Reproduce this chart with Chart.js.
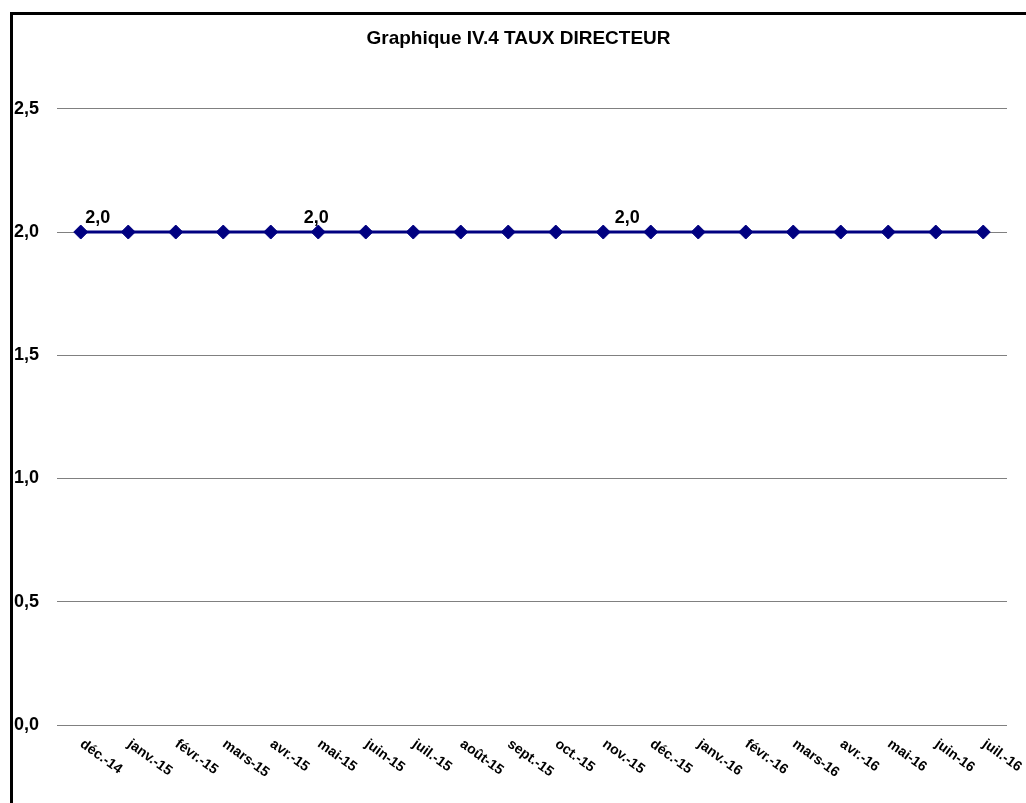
<!DOCTYPE html>
<html>
<head>
<meta charset="utf-8">
<title>Graphique IV.4 TAUX DIRECTEUR</title>
<script src="https://cdn.jsdelivr.net/npm/chart.js@4.4.1/dist/chart.umd.min.js"></script>
<style>
    html, body { margin: 0; padding: 0; background: #ffffff; overflow: hidden; }
    #wrap { position: absolute; left: 0; top: 0; width: 1026px; height: 803px; }
    #frame {
        position: absolute; left: 10px; top: 12px;
        width: 1100px; height: 900px;
        border: 3px solid #000000;
        pointer-events: none;
    }
</style>
</head>
<body>
<div id="wrap"><canvas id="tauxChart" width="1026" height="803"></canvas></div>
<div id="frame"></div>
<script>
const months = ['déc.-14', 'janv.-15', 'févr.-15', 'mars-15', 'avr.-15', 'mai-15', 'juin-15', 'juil.-15',
    'août-15', 'sept.-15', 'oct.-15', 'nov.-15', 'déc.-15', 'janv.-16', 'févr.-16', 'mars-16',
    'avr.-16', 'mai-16', 'juin-16', 'juil.-16'];
const tauxDirecteur = [2.0, 2.0, 2.0, 2.0, 2.0, 2.0, 2.0, 2.0, 2.0, 2.0,
    2.0, 2.0, 2.0, 2.0, 2.0, 2.0, 2.0, 2.0, 2.0, 2.0];
// points that carry a value label
const labelledPoints = [0, 5, 11];

const fontFamily = '"Liberation Sans", Arial, sans-serif';
const frNumber = v => v.toFixed(1).replace('.', ',');

// x labels are drawn by hand: Chart.js always right-aligns rotated labels
const monthLabels = {
    id: 'monthLabels',
    afterDraw(chart) {
        const ctx = chart.ctx;
        const xScale = chart.scales.x;
        const bottom = chart.chartArea.bottom;
        ctx.save();
        ctx.font = 'bold 14px ' + fontFamily;
        ctx.fillStyle = '#000000';
        ctx.textAlign = 'left';
        ctx.textBaseline = 'top';
        months.forEach((m, i) => {
            const x = xScale.getPixelForValue(i);
            ctx.save();
            ctx.translate(x + 5, bottom + 12);
            ctx.rotate(36 * Math.PI / 180);
            ctx.fillText(m, 0, 0);
            ctx.restore();
        });
        ctx.restore();
    }
};

const valueLabels = {
    id: 'valueLabels',
    afterDatasetsDraw(chart) {
        const ctx = chart.ctx;
        const meta = chart.getDatasetMeta(0);
        const shift = { 0: 17, 5: -2, 11: 24 };
        ctx.save();
        ctx.font = 'bold 18px ' + fontFamily;
        ctx.fillStyle = '#000000';
        ctx.textAlign = 'center';
        ctx.textBaseline = 'alphabetic';
        labelledPoints.forEach(i => {
            const p = meta.data[i];
            ctx.fillText(frNumber(tauxDirecteur[i]), p.x + (shift[i] || 0), p.y - 9);
        });
        ctx.restore();
    }
};

const chart = new Chart(document.getElementById('tauxChart').getContext('2d'), {
    type: 'line',
    data: {
        labels: months,
        datasets: [{
            label: 'Taux directeur',
            data: tauxDirecteur,
            yAxisID: 'y',
            borderColor: '#000080',
            backgroundColor: '#000080',
            borderWidth: 3,
            pointStyle: 'rectRot',
            pointRadius: 7,
            pointBorderWidth: 1,
            pointBorderColor: '#000080',
            pointBackgroundColor: '#000080',
            tension: 0
        }]
    },
    options: {
        responsive: false,
        animation: false,
        devicePixelRatio: 1,
        layout: {
            padding: { top: 0, left: 12, right: 1, bottom: 70 }
        },
        plugins: {
            legend: { display: false },
            tooltip: { enabled: false },
            title: {
                display: true,
                text: 'Graphique IV.4 TAUX DIRECTEUR',
                color: '#000000',
                font: { family: fontFamily, size: 19, weight: 'bold' },
                padding: { top: 27, bottom: 59 }
            }
        },
        scales: {
            x: {
                offset: true,
                grid: { display: false },
                border: { display: false },
                ticks: { display: false }
            },
            y: {
                min: 0,
                max: 2.5,
                border: { display: false },
                grid: {
                    color: '#808080',
                    lineWidth: 1,
                    drawTicks: false
                },
                ticks: {
                    stepSize: 0.5,
                    padding: 18,
                    color: '#000000',
                    font: { family: fontFamily, size: 18, weight: 'bold' },
                    callback: value => frNumber(value)
                },
                afterFit(scale) { scale.width = 45; }
            },
            // empty right margin, keeps the plot edge where the original has it
            yRight: {
                position: 'right',
                grid: { display: false },
                border: { display: false },
                ticks: { display: false },
                afterFit(scale) { scale.width = 18; }
            }
        }
    },
    plugins: [monthLabels, valueLabels]
});
</script>
</body>
</html>
